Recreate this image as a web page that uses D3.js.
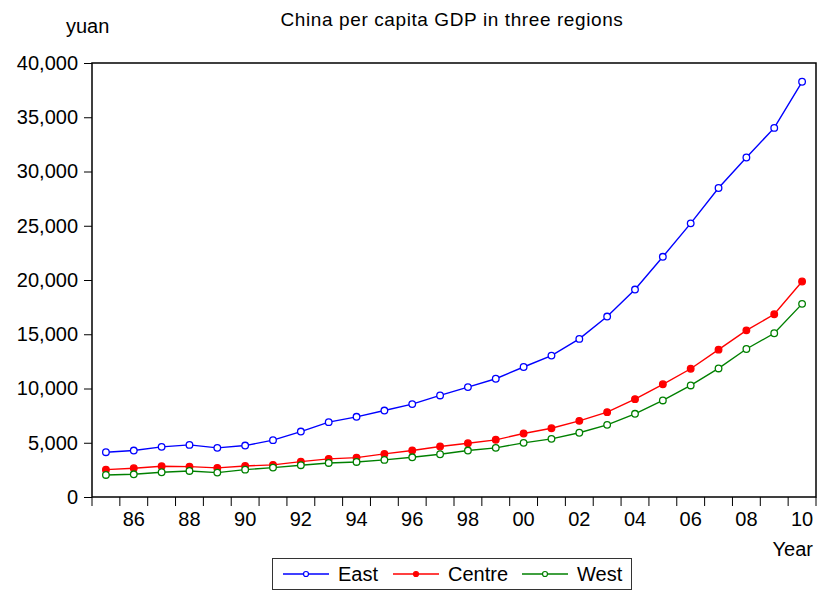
<!DOCTYPE html>
<html>
<head>
<meta charset="utf-8">
<script src="https://cdn.jsdelivr.net/npm/d3@7"></script>
<style>
  html, body { margin: 0; padding: 0; background: #fff; }
  svg { display: block; font-family: "Liberation Sans", Arial, sans-serif; }
</style>
</head>
<body>
<svg id="chart" width="820" height="592"></svg>
<script>
const years = [1985,1986,1987,1988,1989,1990,1991,1992,1993,1994,1995,1996,1997,1998,1999,2000,2001,2002,2003,2004,2005,2006,2007,2008,2009,2010];
const east   = [4130,4280,4620,4800,4530,4740,5240,6030,6900,7390,7970,8560,9360,10130,10900,11980,13030,14570,16630,19120,22140,25220,28480,31290,34020,38270];
const centre = [2520,2650,2830,2800,2680,2860,2960,3260,3510,3630,3970,4280,4650,4960,5270,5850,6340,7020,7820,9020,10390,11820,13580,15360,16840,19860];
const west   = [2030,2090,2280,2400,2250,2520,2710,2930,3140,3230,3420,3660,3940,4280,4530,4990,5360,5920,6650,7670,8900,10280,11850,13640,15090,17800];
const yTicks = [0,5000,10000,15000,20000,25000,30000,35000,40000];
const xLabelYears = [1986,1988,1990,1992,1994,1996,1998,2000,2002,2004,2006,2008,2010];
const seriesNames = ["East","Centre","West"];

const series = [
  {name: seriesNames[0], values: east,   color: "#0000ff", filled: false},
  {name: seriesNames[1], values: centre, color: "#ff0000", filled: true},
  {name: seriesNames[2], values: west,   color: "#008000", filled: false}
];

const L = 92, R = 816, T = 63, B = 497;
const svg = d3.select("#chart");

const x = d3.scaleBand().domain(years).range([L, R]).padding(0);
const y = d3.scaleLinear().domain([0, 40000]).range([B, T]);
const cx = d => x(d) + x.bandwidth() / 2;

// Title and labels
svg.append("text").attr("x", 452).attr("y", 26).attr("text-anchor", "middle")
  .attr("font-size", 19).attr("letter-spacing", 0.6).attr("fill", "#000")
  .text("China per capita GDP in three regions");
svg.append("text").attr("x", 66).attr("y", 33).attr("font-size", 20).attr("fill", "#000").text("yuan");
svg.append("text").attr("x", 813).attr("y", 556).attr("text-anchor", "end").attr("font-size", 20).attr("fill", "#000").text("Year");

// Y axis
const yAxis = svg.append("g").attr("transform", `translate(${L},0)`)
  .call(d3.axisLeft(y).tickValues(yTicks).tickFormat(d3.format(",")).tickSize(8).tickPadding(6));
yAxis.select(".domain").remove();
yAxis.selectAll("line").attr("stroke", "#000");
yAxis.selectAll("text").attr("font-size", 20).attr("font-family", "Liberation Sans, Arial, sans-serif").attr("fill", "#000");

// X axis tick marks at band edges
const edges = years.map(d => x(d)).concat([R]);
svg.append("g").selectAll("line").data(edges).join("line")
  .attr("x1", d => d).attr("x2", d => d).attr("y1", B).attr("y2", B + 9)
  .attr("stroke", "#000").attr("stroke-width", 1);

// X labels
const xAxis = svg.append("g").attr("transform", `translate(0,${B})`)
  .call(d3.axisBottom(x).tickValues(xLabelYears).tickFormat(d => String(d).slice(2)).tickSize(0).tickPadding(15));
xAxis.select(".domain").remove();
xAxis.selectAll("text").attr("font-size", 20).attr("font-family", "Liberation Sans, Arial, sans-serif").attr("fill", "#000");

// Frame
svg.append("rect").attr("x", L).attr("y", T).attr("width", R - L).attr("height", B - T)
  .attr("fill", "none").attr("stroke", "#000").attr("stroke-width", 1.5);

// Lines and markers
const line = d3.line().x((d, i) => cx(years[i])).y(d => y(d));
series.forEach(s => {
  svg.append("path").datum(s.values).attr("d", line)
    .attr("fill", "none").attr("stroke", s.color).attr("stroke-width", 1.4);
  svg.append("g").selectAll("circle").data(s.values).join("circle")
    .attr("cx", (d, i) => cx(years[i])).attr("cy", d => y(d)).attr("r", 3.3)
    .attr("fill", s.filled ? s.color : "#fff").attr("stroke", s.color).attr("stroke-width", 1.3);
});

// Legend
const lg = svg.append("g");
lg.append("rect").attr("x", 272.5).attr("y", 558.5).attr("width", 359).attr("height", 31)
  .attr("fill", "#fff").attr("stroke", "#333").attr("stroke-width", 1);
const legendX = [283, 393, 522];
series.forEach((s, i) => {
  const lx = legendX[i];
  lg.append("line").attr("x1", lx).attr("x2", lx + 46).attr("y1", 574).attr("y2", 574)
    .attr("stroke", s.color).attr("stroke-width", 1.4);
  lg.append("circle").attr("cx", lx + 23).attr("cy", 574).attr("r", 2.5)
    .attr("fill", s.filled ? s.color : "#fff").attr("stroke", s.color).attr("stroke-width", 1.2);
  lg.append("text").attr("x", lx + 55).attr("y", 581).attr("font-size", 20).attr("fill", "#000").text(s.name);
});
</script>
</body>
</html>
